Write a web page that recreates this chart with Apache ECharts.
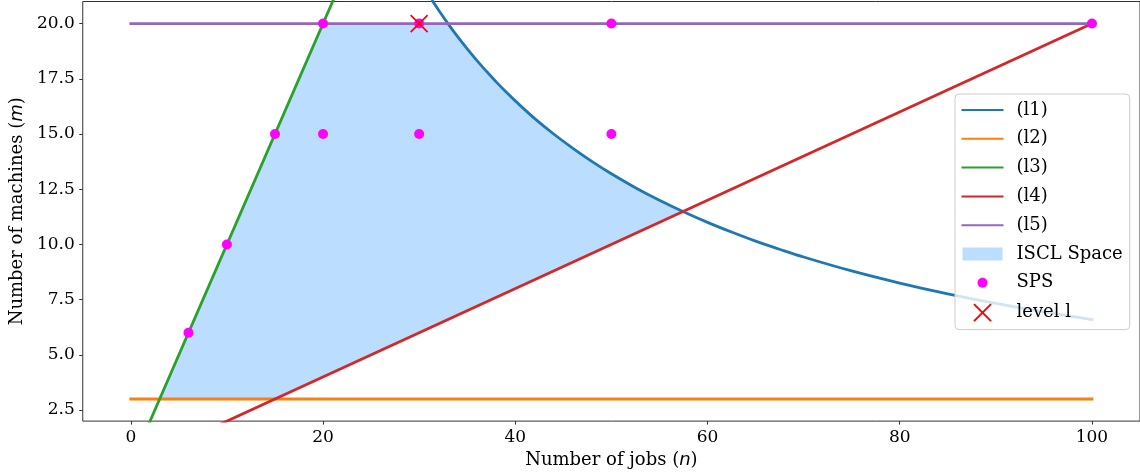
<!DOCTYPE html>
<html>
<head>
<meta charset="utf-8">
<script src="https://cdn.jsdelivr.net/npm/echarts@6/dist/echarts.min.js"></script>
<style>
  html, body { margin: 0; padding: 0; background: #fff; }
  #chart { width: 1140px; height: 474px; }
</style>
</head>
<body>
<div id="chart"></div>
<script>
// ---- data ----
const xTicks = [0, 20, 40, 60, 80, 100];
const yTicks = [2.5, 5, 7.5, 10, 12.5, 15, 17.5, 20];

const l1N = [31.4, 32, 33, 34, 35, 36, 37, 38, 39, 40, 42, 44, 46, 48, 50, 52.5, 55, 57.5, 60, 62.5, 65, 67.5, 70, 75, 80, 85, 90, 95, 100];
const l1M = [21.02, 20.63, 20.0, 19.41, 18.86, 18.33, 17.84, 17.37, 16.92, 16.5, 15.71, 15.0, 14.35, 13.75, 13.2, 12.57, 12.0, 11.48, 11.0, 10.56, 10.15, 9.78, 9.43, 8.8, 8.25, 7.76, 7.33, 6.95, 6.6];
const l2N = [0, 100];
const l2M = [3, 3];
const l3N = [0, 22];
const l3M = [0, 22];
const l4N = [0, 100];
const l4M = [0, 20];
const l5N = [0, 100];
const l5M = [20, 20];

const isclN = [3, 20, 33, 34, 35, 36, 37, 38, 39, 40, 42, 44, 46, 48, 50, 52.5, 55, 57.5, 15];
const isclM = [3, 20, 20.0, 19.41, 18.86, 18.33, 17.84, 17.37, 16.92, 16.5, 15.71, 15.0, 14.35, 13.75, 13.2, 12.57, 12.0, 11.48, 3];

const spsN = [6, 10, 15, 20, 30, 50, 20, 30, 50, 100];
const spsM = [6, 10, 15, 15, 15, 15, 20, 20, 20, 20];

const levelN = [30];
const levelM = [20];

const legendNames = ['(l1)', '(l2)', '(l3)', '(l4)', '(l5)', 'ISCL Space', 'SPS', 'level l'];

// ---- build ----
const pairs = (a, b) => a.map((v, i) => [v, b[i]]);
const SERIF = 'DejaVu Serif';
const LW = 2.8;
const FILL = 'rgba(30,144,255,0.3)';

function lineSeries(name, xs, ys, color, smooth) {
  return {
    name, type: 'line', data: pairs(xs, ys), symbol: 'none', clip: true,
    smooth: smooth || false,
    color, lineStyle: { color, width: LW, cap: 'square' }, z: 3, silent: true
  };
}

const chart = echarts.init(document.getElementById('chart'), null, { renderer: 'canvas' });

const axisName = () => ({
  fontFamily: SERIF, fontSize: 18, color: '#000',
  rich: {
    t: { fontFamily: SERIF, fontSize: 18, color: '#000' },
    i: { fontFamily: 'DejaVu Sans', fontStyle: 'italic', fontSize: 18, color: '#000' }
  }
});

const option = {
  animation: false,
  backgroundColor: '#fff',
  grid: {
    left: 81.5, right: 0, top: 1.5, bottom: 52.5,
    show: true, borderColor: '#333', borderWidth: 1, backgroundColor: 'transparent'
  },
  xAxis: {
    type: 'value', min: -5, max: 105,
    axisLine: { show: false, onZero: false },
    splitLine: { show: false },
    axisTick: { show: true, length: 3.5, lineStyle: { color: '#333', width: 1 }, customValues: xTicks },
    axisLabel: {
      customValues: xTicks, margin: 8,
      fontFamily: SERIF, fontSize: 17, color: '#000',
      formatter: v => String(v)
    },
    name: '{t|Number of jobs (}{i|n}{t|)}',
    nameLocation: 'middle', nameGap: 29,
    nameTextStyle: axisName()
  },
  yAxis: {
    type: 'value', min: 2, max: 21,
    axisLine: { show: false, onZero: false },
    splitLine: { show: false },
    axisTick: { show: true, length: 3.5, lineStyle: { color: '#333', width: 1 }, customValues: yTicks },
    axisLabel: {
      customValues: yTicks, margin: 8,
      fontFamily: SERIF, fontSize: 17, color: '#000',
      formatter: v => v.toFixed(1)
    },
    name: '{t|Number of machines (}{i|m}{t|)}',
    nameLocation: 'middle', nameGap: 55, nameRotate: 90,
    nameTextStyle: axisName()
  },
  legend: {
    show: true,
    orient: 'vertical',
    left: 955, top: 94,
    selectedMode: false,
    itemWidth: 40, itemHeight: 18, itemGap: 10.8,
    padding: [7, 7, 7, 6.5],
    backgroundColor: 'rgba(255,255,255,0.8)',
    borderColor: '#cccccc', borderWidth: 1, borderRadius: 4,
    textStyle: { fontFamily: SERIF, fontSize: 18, color: '#000', padding: [0, 0, 0, 9] },
    data: [
      { name: legendNames[0], itemStyle: { opacity: 0 } },
      { name: legendNames[1], itemStyle: { opacity: 0 } },
      { name: legendNames[2], itemStyle: { opacity: 0 } },
      { name: legendNames[3], itemStyle: { opacity: 0 } },
      { name: legendNames[4], itemStyle: { opacity: 0 } },
      { name: legendNames[5], icon: 'path://M0,0M40,18M0,2.5L40,2.5L40,15.5L0,15.5Z' },
      { name: legendNames[6], icon: 'path://M0,0M40,18M15,9A5,5 0 1 1 25,9A5,5 0 1 1 15,9Z' },
      { name: legendNames[7], icon: 'path://M0,0M40,18M11.5,0.5L28.5,17.5M28.5,0.5L11.5,17.5' }
    ]
  },
  series: [
    {
      name: legendNames[5], type: 'custom', clip: true, z: 1, silent: true,
      itemStyle: { color: FILL },
      data: pairs(isclN, isclM),
      renderItem: (params, api) => {
        if (params.dataIndex !== 0) return null;
        const pts = isclN.map((n, i) => api.coord([n, isclM[i]]));
        return { type: 'polygon', shape: { points: pts }, style: { fill: FILL } };
      }
    },
    lineSeries(legendNames[0], l1N, l1M, '#1f77b4', 0.4),
    lineSeries(legendNames[1], l2N, l2M, '#ff7f0e'),
    lineSeries(legendNames[2], l3N, l3M, '#2ca02c'),
    lineSeries(legendNames[3], l4N, l4M, '#d62728'),
    lineSeries(legendNames[4], l5N, l5M, '#9467bd'),
    {
      name: legendNames[6], type: 'scatter', data: pairs(spsN, spsM),
      symbol: 'circle', symbolSize: 10, z: 5, silent: true,
      itemStyle: { color: '#ff00ff', opacity: 1 }
    },
    {
      name: legendNames[7], type: 'scatter', data: pairs(levelN, levelM),
      symbol: 'path://M0,0L18,18M18,0L0,18', symbolSize: 17, z: 6, silent: true,
      itemStyle: { color: 'transparent', borderColor: '#ff0000', borderWidth: 1.7, opacity: 1 }
    }
  ]
};

chart.setOption(option);
</script>
</body>
</html>
